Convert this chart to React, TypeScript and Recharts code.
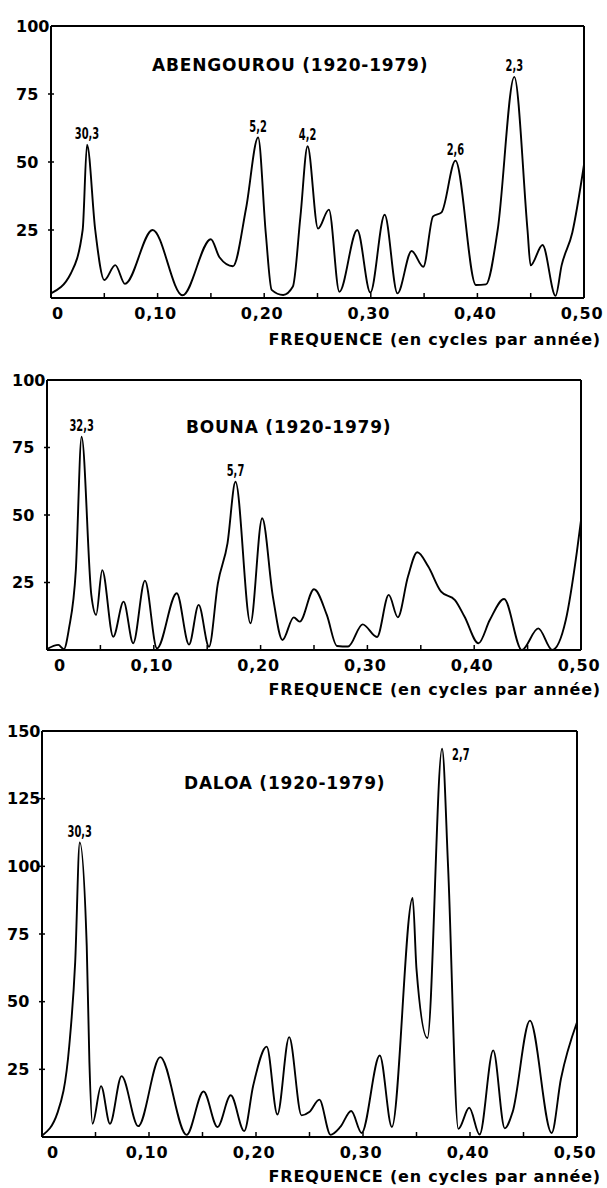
import React from 'react';
import { LineChart, Line, XAxis, YAxis, ReferenceLine, ReferenceDot } from 'recharts';

// ---------- shared axis data ----------
const xTicks = [0, 0.05, 0.1, 0.15, 0.2, 0.25, 0.3, 0.35, 0.4, 0.45, 0.5];
const xTickLabels = ['0', '', '0,10', '', '0,20', '', '0,30', '', '0,40', '', '0,50'];
const yTicks100 = [0, 25, 50, 75, 100];
const yTicks150 = [0, 25, 50, 75, 100, 125, 150];
const xAxisTitle = 'FREQUENCE (en cycles par année)';

// ---------- ABENGOUROU ----------
const abengourouTitle = 'ABENGOUROU (1920-1979)';
const abengourouFreq = [
  0, 0.0187, 0.0297, 0.0338, 0.0415, 0.05, 0.0603, 0.0694, 0.0953, 0.1234,
  0.15, 0.158, 0.1707, 0.183, 0.1943, 0.2015, 0.207, 0.2178, 0.2269, 0.234,
  0.2407, 0.2505, 0.2607, 0.2705, 0.2873, 0.2996, 0.313, 0.325, 0.3383, 0.3493,
  0.3584, 0.3664, 0.3794, 0.3986, 0.408, 0.419, 0.4346, 0.447, 0.4499, 0.4611,
  0.4733, 0.479, 0.489, 0.5,
];
const abengourouPower = [
  1.7, 9.1, 25, 56.4, 25, 6.6, 12.1, 5.2, 25, 1.0,
  21.6, 15, 11.7, 33, 59, 23.7, 3, 1.1, 4.2, 30,
  55.8, 25.5, 32.5, 2.3, 25, 2, 30.6, 1.7, 17.3, 11.5,
  30, 31.5, 50.5, 4.8, 5.0, 25, 81.3, 25, 12, 19.5,
  0.8, 12, 24, 49,
];
const abengourouPeakFreq = [0.0338, 0.1943, 0.2407, 0.3794, 0.4346];
const abengourouPeakPower = [56.4, 59, 55.8, 50.5, 81.3];
const abengourouPeakLabel = ['30,3', '5,2', '4,2', '2,6', '2,3'];

// ---------- BOUNA ----------
const bounaTitle = 'BOUNA (1920-1979)';
const bounaFreq = [
  0, 0.0106, 0.0158, 0.0205, 0.027, 0.0324, 0.0415, 0.046, 0.0517, 0.062,
  0.0717, 0.0807, 0.0917, 0.103, 0.1215, 0.133, 0.142, 0.1517, 0.16, 0.169,
  0.1765, 0.1905, 0.2015, 0.2115, 0.2205, 0.231, 0.2366, 0.25, 0.262, 0.2715,
  0.282, 0.2955, 0.309, 0.32, 0.3285, 0.338, 0.3467, 0.357, 0.369, 0.382,
  0.391, 0.404, 0.4146, 0.428, 0.4446, 0.46, 0.473, 0.4857, 0.496, 0.5,
];
const bounaPower = [
  0.3, 1.9, 0.3, 7.8, 29.6, 79, 20.4, 13, 29.6, 4.9,
  17.9, 2.5, 25.7, 0.6, 21, 2.0, 16.7, 1.2, 24.7, 39.5,
  62.3, 9.9, 48.8, 19.8, 3.7, 12.1, 10.5, 22.5, 13, 1.5,
  1.3, 9.5, 4.8, 20.4, 12.1, 27.2, 36.2, 30.9, 21.6, 18.5,
  12.3, 2.5, 11.1, 18.9, 0, 8, 0, 11, 36, 48,
];
const bounaPeakFreq = [0.0324, 0.1765];
const bounaPeakPower = [79, 62.3];
const bounaPeakLabel = ['32,3', '5,7'];

// ---------- DALOA ----------
const daloaTitle = 'DALOA (1920-1979)';
const daloaFreq = [
  0, 0.0147, 0.0255, 0.031, 0.0353, 0.0418, 0.0443, 0.0472, 0.0552, 0.0635,
  0.0744, 0.0899, 0.1105, 0.1351, 0.151, 0.164, 0.1764, 0.189, 0.1974, 0.21,
  0.22, 0.231, 0.2426, 0.2498, 0.2592, 0.2697, 0.2788, 0.289, 0.2987, 0.3157,
  0.327, 0.3464, 0.35, 0.3602, 0.3739, 0.3795, 0.3891, 0.3993, 0.409, 0.4217,
  0.4325, 0.4398, 0.456, 0.4763, 0.485, 0.5,
];
const daloaPower = [
  0.5, 9.2, 33.8, 64.5, 108.8, 70.7, 27.7, 4.9, 18.8, 4.9,
  22.5, 4.0, 29.5, 0.8, 16.8, 3.7, 15.4, 2.2, 19, 33.4,
  8.3, 36.9, 8, 9.2, 13.8, 0.8, 3.7, 9.6, 1.5, 30.1,
  3.7, 88.3, 62, 36.6, 143.5, 100, 3.0, 10.8, 0.9, 32,
  3.2, 9.2, 43, 1.5, 21.5, 42.4,
];
const daloaPeakFreq = [0.0353, 0.3739];
const daloaPeakPower = [108.8, 143.5];
const daloaPeakLabel = ['30,3', '2,7'];

// ---------- rendering ----------
const BOLD_FONT = "'DejaVu Sans', 'Liberation Sans', sans-serif";
const LABEL_FONT = "'DejaVu Sans', sans-serif";

type PanelCfg = {
  title: string;
  freq: number[];
  power: number[];
  peakFreq: number[];
  peakPower: number[];
  peakLabel: string[];
  rightLabels: string[];
  yMax: number;
  yTicks: number[];
  top: number;
  height: number;
  margin: { top: number; right: number; bottom: number; left: number };
  zeroDx: number;
  titleLeft: number;
  titleTop: number;
  xTitleTop: number;
};

const makeXTick = (zeroDx: number) => (props: any) => {
  const { x, y, payload } = props;
  const i = xTicks.findIndex((t) => Math.abs(t - payload.value) < 1e-9);
  const label = i >= 0 ? xTickLabels[i] : '';
  const isZero = Math.abs(payload.value) < 1e-9;
  const isEnd = Math.abs(payload.value - 0.5) < 1e-9;
  return (
    <g>
      {!isZero && !isEnd && (
        <line x1={x} x2={x} y1={y - 5} y2={y + 1} stroke="#000" strokeWidth={1.5} />
      )}
      {label && (
        <text
          x={isZero ? x + zeroDx : x - 2}
          y={y + 21}
          textAnchor="middle"
          fontFamily={BOLD_FONT}
          fontWeight="bold"
          fontSize={16}
          letterSpacing={0.8}
          fill="#000"
        >
          {label}
        </text>
      )}
    </g>
  );
};

const makeLeftTick = (yMax: number) => (props: any) => {
  const { x, y, payload } = props;
  const v = payload.value;
  return (
    <g>
      {v !== 0 && v !== yMax && (
        <line x1={x - 3} x2={x + 3} y1={y} y2={y} stroke="#000" strokeWidth={1.5} />
      )}
      {v !== 0 && (
        <text
          x={x - 35}
          y={y}
          dy="0.36em"
          textAnchor="start"
          fontFamily={BOLD_FONT}
          fontWeight="bold"
          fontSize={16}
          fill="#000"
        >
          {v}
        </text>
      )}
    </g>
  );
};

const makeRightTick = (yMax: number) => (props: any) => {
  const { x, y, payload } = props;
  const v = payload.value;
  if (v === 0 || v === yMax) return <g />;
  return (
    <g>
      <line x1={x - 4} x2={x + 1} y1={y} y2={y} stroke="#000" strokeWidth={1.5} />
    </g>
  );
};

const makePeakLabel = (text: string, right: boolean) => (props: any) => {
  const vb = props.viewBox || {};
  const cx = (vb.x ?? 0) + (vb.width ?? 0) / 2;
  const cy = (vb.y ?? 0) + (vb.height ?? 0) / 2;
  const tx = right ? cx + 10 : cx;
  const ty = right ? cy + 11 : cy - 6;
  return (
    <g transform={`translate(${tx},${ty}) scale(0.66,1.1)`}>
      <text
        x={0}
        y={0}
        textAnchor={right ? 'start' : 'middle'}
        fontFamily={LABEL_FONT}
        fontWeight="bold"
        fontSize={15}
        fill="#000"
      >
        {text}
      </text>
    </g>
  );
};

function Panel({ cfg }: { cfg: PanelCfg }) {
  const data = cfg.freq.map((f, i) => ({ f, v: cfg.power[i] }));
  return (
    <>
      <div style={{ position: 'absolute', left: 0, top: cfg.top, width: 607, height: cfg.height }}>
        <LineChart width={607} height={cfg.height} data={data} margin={cfg.margin}>
          <XAxis
            dataKey="f"
            type="number"
            domain={[0, 0.5]}
            ticks={xTicks}
            interval={0}
            height={30}
            tickSize={0}
            tickMargin={0}
            tickLine={false}
            axisLine={{ stroke: '#000', strokeWidth: 2 }}
            tick={makeXTick(cfg.zeroDx)}
          />
          <YAxis
            type="number"
            domain={[0, cfg.yMax]}
            ticks={cfg.yTicks}
            interval={0}
            width={40}
            tickSize={0}
            tickMargin={0}
            tickLine={false}
            axisLine={{ stroke: '#000', strokeWidth: 2 }}
            tick={makeLeftTick(cfg.yMax)}
          />
          <YAxis
            yAxisId="r"
            orientation="right"
            type="number"
            domain={[0, cfg.yMax]}
            ticks={cfg.yTicks}
            interval={0}
            width={1}
            tickSize={0}
            tickMargin={0}
            tickLine={false}
            axisLine={{ stroke: '#000', strokeWidth: 2 }}
            tick={makeRightTick(cfg.yMax)}
          />
          <ReferenceLine y={cfg.yMax} stroke="#000" strokeWidth={2} />
          <Line
            dataKey="v"
            type="monotone"
            stroke="#000"
            strokeWidth={1.9}
            dot={false}
            activeDot={false}
            isAnimationActive={false}
          />
          {cfg.peakFreq.map((f, i) => (
            <ReferenceDot
              key={i}
              x={f}
              y={cfg.peakPower[i]}
              r={0}
              fill="none"
              stroke="none"
              label={{ content: makePeakLabel(cfg.peakLabel[i], cfg.rightLabels.includes(cfg.peakLabel[i])) }}
            />
          ))}
        </LineChart>
      </div>
      <div
        style={{
          position: 'absolute',
          left: cfg.titleLeft,
          top: cfg.titleTop,
          fontFamily: BOLD_FONT,
          fontWeight: 'bold',
          fontSize: 17,
          lineHeight: '20px',
          letterSpacing: 0.8,
          whiteSpace: 'nowrap',
          color: '#000',
        }}
      >
        {cfg.title}
      </div>
      <div
        style={{
          position: 'absolute',
          right: 6,
          top: cfg.xTitleTop,
          fontFamily: BOLD_FONT,
          fontWeight: 'bold',
          fontSize: 16,
          lineHeight: '20px',
          letterSpacing: 0.8,
          whiteSpace: 'nowrap',
          color: '#000',
        }}
      >
        {xAxisTitle}
      </div>
    </>
  );
}

const panels: PanelCfg[] = [
  {
    title: abengourouTitle,
    freq: abengourouFreq,
    power: abengourouPower,
    peakFreq: abengourouPeakFreq,
    peakPower: abengourouPeakPower,
    peakLabel: abengourouPeakLabel,
    rightLabels: [],
    yMax: 100,
    yTicks: yTicks100,
    top: 0,
    height: 350,
    margin: { top: 26, right: 22, bottom: 22, left: 11 },
    zeroDx: 7,
    titleLeft: 152,
    titleTop: 55,
    xTitleTop: 330,
  },
  {
    title: bounaTitle,
    freq: bounaFreq,
    power: bounaPower,
    peakFreq: bounaPeakFreq,
    peakPower: bounaPeakPower,
    peakLabel: bounaPeakLabel,
    rightLabels: [],
    yMax: 100,
    yTicks: yTicks100,
    top: 350,
    height: 352,
    margin: { top: 30, right: 25, bottom: 22, left: 7 },
    zeroDx: 13,
    titleLeft: 186,
    titleTop: 417,
    xTitleTop: 680,
  },
  {
    title: daloaTitle,
    freq: daloaFreq,
    power: daloaPower,
    peakFreq: daloaPeakFreq,
    peakPower: daloaPeakPower,
    peakLabel: daloaPeakLabel,
    rightLabels: ['2,7'],
    yMax: 150,
    yTicks: yTicks150,
    top: 702,
    height: 486,
    margin: { top: 29, right: 29, bottom: 21, left: 2 },
    zeroDx: 11,
    titleLeft: 184,
    titleTop: 773,
    xTitleTop: 1167,
  },
];

export default function App() {
  return (
    <div style={{ position: 'absolute', left: 0, top: 0, width: 607, height: 1188, background: '#fff' }}>
      {panels.map((p, i) => (
        <Panel key={i} cfg={p} />
      ))}
    </div>
  );
}
